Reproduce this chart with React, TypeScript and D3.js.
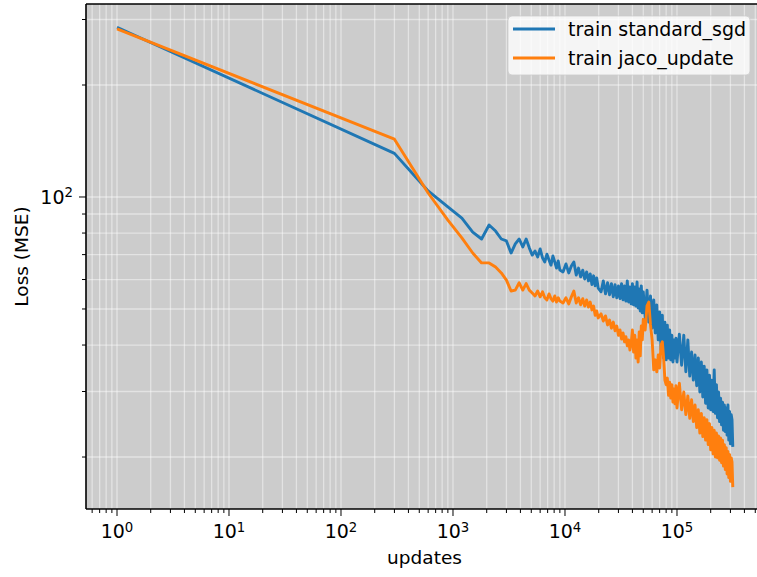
import { scaleLog, line } from "d3";

const updates = [
  1, 300, 600, 900, 1200, 1500, 1800, 2100, 2400, 2700, 3000, 3300, 3600, 3900, 4200, 4500,
  4800, 5100, 5400, 5700, 6000, 6300, 6600, 6900, 7200, 7500, 7800, 8100, 8400, 8700, 9000,
  9600, 10200, 10800, 11400, 12000, 12600, 13200, 13800, 14400, 15000, 15600, 16200, 16800,
  17400, 18000, 18600, 19200, 19800,
  21000, 22000, 23000, 24000, 25000, 26000, 27000, 28000, 29000, 30000, 31000, 32000, 33000,
  34000, 35000, 36000, 37000, 38000, 39000, 40000, 41000, 42000, 43000, 44000, 45000, 46000,
  47000, 48000, 49000, 50000,
  52000, 54000, 56000, 58000, 60000, 62000, 64000, 66000, 68000, 70000, 72000, 74000, 76000,
  78000, 80000, 82000, 84000, 86000, 88000, 90000, 92000, 94000, 96000, 98000, 100000,
  105000, 110000, 115000, 120000, 125000, 130000, 135000, 140000, 145000, 150000, 155000,
  160000, 165000, 170000, 175000, 180000, 185000, 190000, 195000, 200000, 205000, 210000,
  215000, 220000, 225000, 230000, 235000, 240000, 245000, 250000, 255000, 260000, 265000,
  270000, 275000, 280000, 285000, 290000, 295000, 300000, 305000, 310000, 315000,
];

const sgdLoss = [
  286, 131, 103.8, 94.0, 87.8, 80.5, 77.1, 84.1, 81.0, 77.1, 76.2, 70.7, 74.8, 77.1, 73.4, 77.1,
  73.0, 69.8, 71.6, 69.0, 72.5, 68.6, 66.9, 70.2, 67.7, 65.6, 69.4, 66.9, 64.4, 67.3, 63.6,
  62.9, 66.1, 62.5, 65.2, 66.9, 61.7, 64.4, 61.0, 63.6, 60.2, 62.9, 59.5, 62.1, 58.2, 61.4,
  57.7, 60.6, 56.9,
  55.6, 59.5, 54.9, 58.8, 54.6, 58.5, 53.9, 58.1, 53.6, 57.7, 53.3, 58.5, 52.9, 57.7, 52.5,
  59.5, 52.2, 57.3, 51.6, 58.5, 51.3, 57.3, 50.9, 59.1, 50.3, 56.6, 49.4, 57.7, 48.8, 55.6,
  47.3, 56.2, 46.1, 54.2, 44.4, 52.9, 43.1, 51.3, 41.3, 49.1, 38.8, 48.1, 36.9, 46.1, 36.5,
  45.2, 36.9, 43.9, 36.5, 42.5, 36.0, 41.3, 36.9, 41.7, 36.0,
  42.8, 35.3, 42.5, 33.9, 41.3, 33.0, 38.3, 32.2, 37.6, 31.1, 36.9, 29.9, 36.0, 29.0, 35.1,
  27.9, 34.3, 27.1, 33.2, 26.8, 32.2, 26.5, 34.3, 26.2, 31.3, 25.5, 29.9, 24.9, 28.8, 24.4,
  28.1, 23.6, 27.6, 23.4, 27.1, 22.9, 27.6, 22.2, 26.5, 21.7, 26.0, 25.2, 21.3,
];

const jacoLoss = [
  283, 143, 102.5, 86.7, 77.6, 70.7, 66.5, 66.5, 64.8, 62.5, 59.8, 55.9, 56.2, 58.8, 56.2, 58.5,
  56.2, 55.2, 54.2, 55.9, 53.9, 55.6, 53.6, 52.9, 54.9, 53.3, 52.5, 54.2, 52.2, 53.6, 52.5,
  51.9, 53.6, 51.6, 53.9, 55.9, 51.9, 53.6, 51.3, 53.3, 50.9, 52.9, 50.6, 52.2, 49.7, 50.9,
  48.1, 49.4, 47.3,
  48.5, 46.4, 47.9, 45.3, 46.7, 44.4, 46.1, 43.7, 45.0, 42.5, 43.9, 41.5, 43.1, 40.8, 42.1,
  39.8, 41.3, 38.8, 40.5, 43.9, 38.3, 42.5, 36.9, 41.3, 36.0, 43.4, 37.4, 45.0, 41.3, 46.9,
  43.9, 51.0, 52.2, 45.3, 41.3, 34.3, 36.5, 33.9, 37.6, 34.7, 40.0, 40.8, 36.9, 32.2, 31.3,
  32.6, 29.3, 31.8, 28.8, 31.3, 28.1, 30.5, 27.8, 31.1, 27.1,
  31.6, 26.8, 29.9, 26.0, 29.2, 25.4, 28.5, 24.9, 27.6, 24.0, 26.8, 23.2, 26.2, 22.7, 25.5,
  22.2, 25.2, 21.6, 24.6, 20.9, 24.0, 20.4, 23.6, 20.0, 23.2, 19.9, 22.8, 19.6, 22.5, 19.3,
  22.2, 18.9, 21.6, 18.5, 21.2, 18.0, 20.7, 17.6, 20.3, 17.2, 19.9, 19.4, 16.6,
];

const seriesNames = ["train standard_sgd", "train jaco_update"];
const seriesColors = ["#1f77b4", "#ff7f0e"];
const xLabel = "updates";
const yLabel = "Loss (MSE)";

const W = 757;
const H = 577;
const left = 86;
const right = 763; // right spine falls just outside the cropped figure
const top = 4;
const bottom = 509;
const FONT = "'DejaVu Sans', sans-serif";

const isMajor = (v: number) => Math.abs(Math.log10(v) - Math.round(Math.log10(v))) < 1e-9;

export default function App() {
  const x = scaleLog().domain([10 ** -0.2768, 10 ** 5.768]).range([left, right]);
  const y = scaleLog().domain([10 ** 1.1613, 10 ** 2.5188]).range([bottom, top]);

  const xTicks = x.ticks().filter((t) => x(t) >= left && x(t) <= right);
  const yTicks = y.ticks().filter((t) => y(t) >= top && y(t) <= bottom);

  const path = line<number>()
    .x((_, i) => x(updates[i]))
    .y((d) => y(d));

  const series = [sgdLoss, jacoLoss];

  return (
    <svg
      width={W}
      height={H}
      style={{ position: "absolute", left: 0, top: 0, background: "#fff" }}
      fontFamily={FONT}
    >
      <defs>
        <clipPath id="plot">
          <rect x={left} y={top} width={right - left} height={bottom - top} />
        </clipPath>
      </defs>
      <rect x={left} y={top} width={right - left} height={bottom - top} fill="#cccccc" />

      {/* grid, major and minor */}
      <g stroke="#ffffff" strokeOpacity={0.45} strokeWidth={1.3}>
        {xTicks.map((t) => (
          <line key={"gx" + t} x1={x(t)} x2={x(t)} y1={top} y2={bottom} />
        ))}
        {yTicks.map((t) => (
          <line key={"gy" + t} x1={left} x2={right} y1={y(t)} y2={y(t)} />
        ))}
      </g>

      <g clipPath="url(#plot)" fill="none" strokeWidth={2.9} strokeLinejoin="round">
        {series.map((s, i) => (
          <path key={seriesNames[i]} d={path(s) ?? ""} stroke={seriesColors[i]} />
        ))}
      </g>

      {/* spines */}
      <g stroke="#000" strokeWidth={1.6} fill="none">
        <line x1={left} x2={left} y1={top} y2={bottom} />
        <line x1={left} x2={right} y1={bottom} y2={bottom} />
        <line x1={left} x2={right} y1={top} y2={top} />
      </g>

      {/* ticks */}
      <g stroke="#000" strokeWidth={1}>
        {xTicks.map((t) => (
          <line key={"tx" + t} x1={x(t)} x2={x(t)} y1={bottom} y2={bottom + (isMajor(t) ? 7 : 4)} />
        ))}
        {yTicks.map((t) => (
          <line key={"ty" + t} x1={left} x2={left - (isMajor(t) ? 7 : 4)} y1={y(t)} y2={y(t)} />
        ))}
      </g>

      {xTicks.filter(isMajor).map((t) => (
        <text key={"lx" + t} x={x(t)} y={538} fontSize={19} textAnchor="middle" fill="#000">
          10
          <tspan fontSize={13.3} dy={-6.5}>
            {Math.round(Math.log10(t))}
          </tspan>
        </text>
      ))}
      {yTicks.filter(isMajor).map((t) => (
        <text key={"ly" + t} x={73} y={y(t) + 7} fontSize={19} textAnchor="end" fill="#000">
          10
          <tspan fontSize={13.3} dy={-6.5}>
            {Math.round(Math.log10(t))}
          </tspan>
        </text>
      ))}

      <text x={(left + right) / 2} y={564} fontSize={18.5} textAnchor="middle" fill="#000">
        {xLabel}
      </text>
      <text
        transform={`translate(28,${(top + bottom) / 2}) rotate(-90)`}
        fontSize={18.5}
        textAnchor="middle"
        fill="#000"
      >
        {yLabel}
      </text>

      {/* legend */}
      <rect
        x={508}
        y={16}
        width={242}
        height={59}
        rx={4}
        fill="#ffffff"
        fillOpacity={0.8}
        stroke="#cccccc"
        strokeOpacity={0.8}
      />
      {seriesNames.map((name, i) => (
        <g key={name}>
          <line x1={513} x2={555} y1={29 + i * 29} y2={29 + i * 29} stroke={seriesColors[i]} strokeWidth={2.9} />
          <text x={568} y={36 + i * 29} fontSize={19} fill="#000">
            {name}
          </text>
        </g>
      ))}
    </svg>
  );
}
